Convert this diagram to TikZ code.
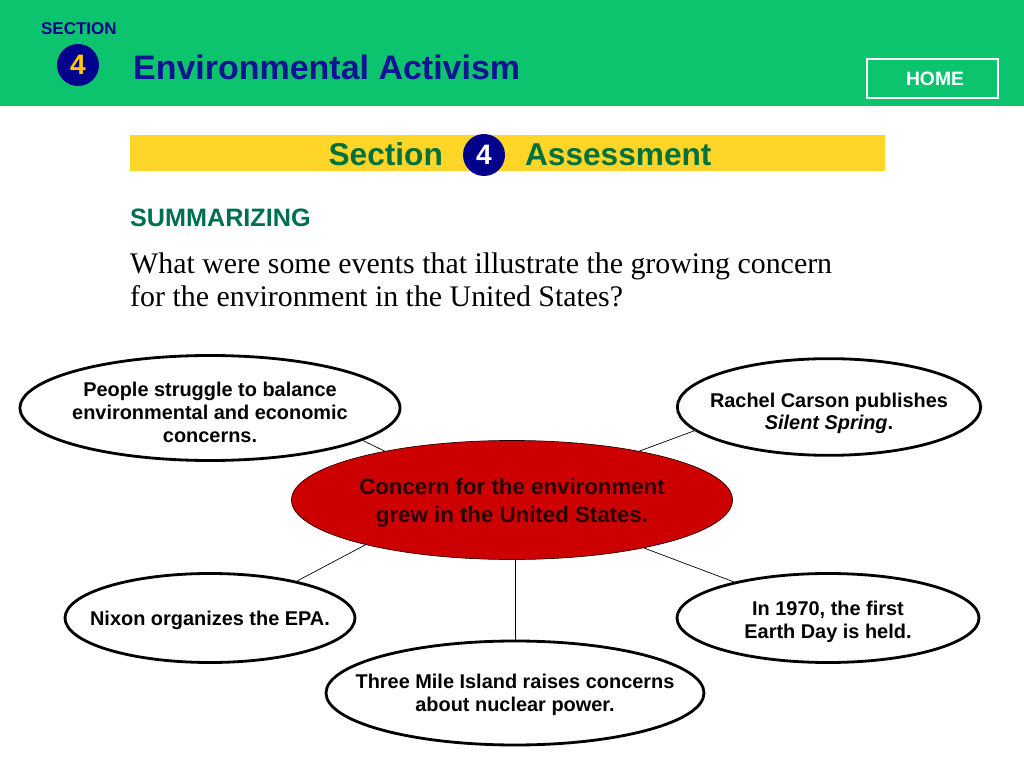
\documentclass[tikz,border=0pt]{standalone}
\usepackage{fontspec}
\setmainfont{Liberation Sans}
\newfontfamily\questionfont{Liberation Serif}
\usetikzlibrary{shapes.geometric}
\definecolor{bandgreen}{RGB}{12,196,110}
\definecolor{navy}{RGB}{0,0,140}
\definecolor{titleblue}{RGB}{18,18,150}
\definecolor{baryellow}{RGB}{255,213,40}
\definecolor{darkgreen}{RGB}{0,112,60}
\definecolor{sumgreen}{RGB}{0,110,80}
\definecolor{hubred}{RGB}{204,0,0}
\definecolor{hubtext}{RGB}{40,0,0}
\definecolor{numyellow}{RGB}{255,200,0}

% text that does not push the ellipse wider
\newcommand{\ideatext}[2][-6.5pt]{\raisebox{#1}[0pt][0pt]{\makebox[0pt][c]{\begin{tabular}{@{}c@{}}#2\end{tabular}}}}

\tikzset{
  idea/.style={draw, ellipse, line width=2.4pt, fill=white, inner sep=0pt,
    font=\bfseries\fontsize{17}{19.5}\selectfont},
  hub/.style={draw=hubtext, ellipse, line width=.6pt, fill=hubred, inner sep=0pt,
    text=hubtext, font=\bfseries\fontsize{19}{24}\selectfont},
  badge/.style={circle, fill=navy, inner sep=0pt, minimum size=1.26cm, font=\bfseries\fontsize{24}{24}\selectfont},
  link/.style={line width=.6pt}
}

\begin{document}
\begin{tikzpicture}[x=0.03cm, y=-0.03cm]
\useasboundingbox (0,0) rectangle (1024,768);
% header
\fill[bandgreen] (0,0) rectangle (1024,106);
\node[anchor=base west, text=navy, font=\bfseries\fontsize{14.5}{14.5}\selectfont] (sectag) at (37,35) {SECTION};
\node[badge, text=numyellow] (topnum) at (78,65) {4};
\node[anchor=base west, text=titleblue, font=\bfseries\fontsize{29}{29}\selectfont] (title) at (129,80) {Environmental Activism};
\draw[white, line width=1.2pt] (867,59) rectangle (998,98);
\node[text=white, font=\bfseries\fontsize{16.5}{16.5}\selectfont] (home) at (935,79) {HOME};

% assessment bar
\fill[baryellow] (130,135) rectangle (885,171);
\node[badge, text=white] (barnum) at (484,155) {4};
\node[anchor=base east, text=darkgreen, font=\bfseries\fontsize{27}{27}\selectfont] (secword) at (447,166) {Section};
\node[anchor=base west, text=darkgreen, font=\bfseries\fontsize{27}{27}\selectfont] (assess) at (521,166) {Assessment};

% question
\node[anchor=base west, text=sumgreen, font=\bfseries\fontsize{21.5}{21.5}\selectfont] (summ) at (126,227) {SUMMARIZING};
\node[anchor=north west, align=left, inner sep=0pt, font=\questionfont\fontsize{25.5}{28}\selectfont] (question) at (130,253)
  {What were some events that illustrate the growing concern\\for the environment in the United States?};

% web
\node[hub, minimum width=13.23cm, minimum height=3.57cm] (concern) at (512,500) {\ideatext[-6.8pt]{Concern for the environment\\grew in the United States.}};
\node[idea, minimum width=11.4cm, minimum height=3.15cm] (balance) at (210,408) {\ideatext[-10.3pt]{People struggle to balance\\environmental and economic\\concerns.}};
\node[idea, minimum width=9.1cm, minimum height=2.9cm] (carson) at (829,407) {\ideatext[-10.3pt]{Rachel Carson publishes\\\textit{Silent Spring}.}};
\node[idea, minimum width=8.7cm, minimum height=2.67cm] (nixon) at (210,618) {\ideatext{Nixon organizes the EPA.}};
\node[idea, minimum width=9.06cm, minimum height=2.67cm] (earthday) at (828,618) {\ideatext[-7.8pt]{In 1970, the first\\Earth Day is held.}};
\node[idea, minimum width=11.34cm, minimum height=3.12cm] (tmi) at (515,693) {\ideatext{Three Mile Island raises concerns\\about nuclear power.}};

\draw[link] (concern.159) -- (balance.-12);
\draw[link] (concern.21) -- (carson.190);
\draw[link] (concern.197) -- (nixon.23);
\draw[link] (concern.-20) -- (earthday.159);
\draw[link] (concern.south -| tmi.north) -- (tmi.north);
\end{tikzpicture}
\end{document}
